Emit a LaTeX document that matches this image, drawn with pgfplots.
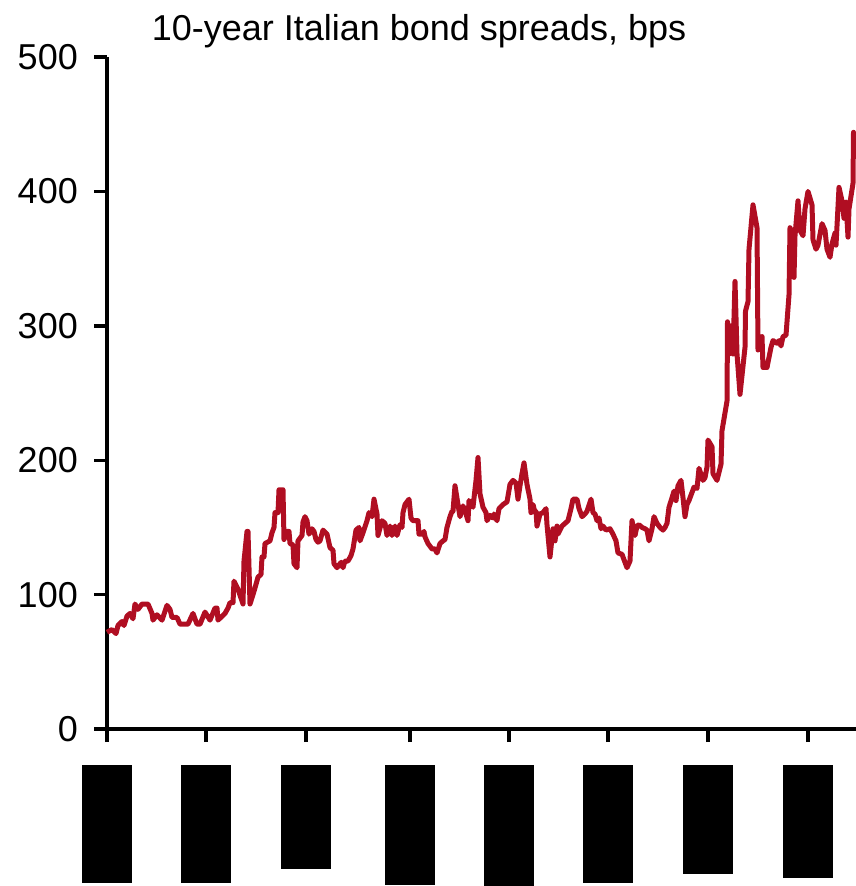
\documentclass[border=0pt]{standalone}
\usepackage{fontspec}
\setmainfont{Liberation Sans}
\usepackage{pgfplots}
\pgfplotsset{compat=1.18}
\definecolor{spreadred}{RGB}{176,14,34}

\begin{document}
\begin{tikzpicture}
\useasboundingbox (0,0) rectangle (856pt,-886pt);
\begin{axis}[
  at={(107pt,-729pt)}, anchor=south west,
  scale only axis, width=749pt, height=672pt,
  xmin=0, xmax=749, ymin=0, ymax=500,
  axis x line=bottom, axis y line=left,
  axis line style={-, line width=3.6pt, black},
  tick align=outside, major tick length=13pt,
  tick style={line width=3.4pt, black},
  xtick={0,99,199,303,402,501,601,701},
  xticklabels={\rule{50pt}{118pt},\rule{50pt}{118pt},\rule{50pt}{104pt},\rule{50pt}{120pt},
               \rule{50pt}{121pt},\rule{50pt}{118pt},\rule{50pt}{109pt},\rule{50pt}{113pt}},
  xticklabel style={anchor=north, inner sep=0pt, yshift=-23pt},
  ytick={0,100,200,300,400,500},
  /pgf/number format/assume math mode=true,
  yticklabel style={font=\fontsize{36}{36}\selectfont, anchor=east, inner sep=0pt, xshift=-16pt},
  clip=false,
]
\addplot[spreadred, line width=5pt, line join=round] coordinates {
(0,72) (5,74) (9,71) (11,77) (15,80) (17,77) (20,84) (23,86) (26,82) (28,93)
(31,89) (35,93) (41,93) (45,86) (46,81) (50,85) (55,81) (60,92) (63,89) (65,83)
(70,83) (73,78) (81,78) (86,86) (90,78) (93,78) (98,87) (103,81) (108,90) (110,90)
(111,81) (118,86) (121,90) (123,94) (126,94) (127,110) (131,104) (136,93) (137,125) (140,147)
(141,147) (143,93) (146,100) (148,105) (151,113) (154,115) (155,128) (157,128) (158,138) (163,140)
(165,146) (167,150) (168,161) (171,161) (172,178) (176,178) (177,141) (180,147) (182,147) (183,138)
(186,137) (187,123) (190,120) (191,140) (195,144) (196,154) (198,158) (200,155) (202,145) (205,149)
(207,147) (209,141) (211,139) (213,140) (216,148) (220,145) (223,135) (226,133) (227,123) (230,120)
(234,124) (236,120) (238,125) (241,125) (244,129) (246,134) (249,148) (252,150) (253,140) (256,146)
(260,155) (262,161) (265,158) (267,171) (270,160) (271,144) (275,155) (278,153) (280,144) (283,151)
(285,144) (288,151) (290,144) (293,152) (295,150) (296,161) (298,167) (302,171) (304,157) (306,155)
(311,155) (312,145) (315,145) (317,147) (318,143) (321,138) (325,134) (328,134) (330,131) (333,138)
(336,140) (338,141) (340,150) (343,158) (345,162) (346,162) (348,181) (351,167) (353,158) (356,166)
(359,160) (361,155) (362,170) (366,165) (369,185) (371,202) (373,175) (376,165) (379,161) (380,155)
(383,159) (386,157) (387,160) (390,155) (392,164) (396,167) (400,169) (403,182) (406,185) (409,183)
(411,171) (413,181) (415,190) (417,198) (420,182) (423,171) (424,161) (426,167) (428,161) (429,162)
(430,151) (433,160) (436,161) (439,164) (440,152) (443,128) (446,149) (448,140) (450,151) (451,145)
(455,151) (458,153) (461,155) (464,164) (466,171) (470,171) (472,164) (475,158) (478,160) (480,162)
(484,171) (486,161) (488,160) (490,155) (492,157) (494,149) (496,151) (499,148) (503,149) (506,145)
(509,140) (511,131) (515,130) (517,126) (520,120) (523,125) (525,155) (528,144) (530,151) (532,152)
(535,150) (538,149) (540,148) (542,140) (545,149) (547,158) (550,153) (553,150) (556,148) (558,150)
(560,153) (562,165) (565,172) (567,177) (569,170) (571,181) (574,185) (576,172) (578,158) (580,167)
(582,170) (585,176) (587,180) (590,179) (592,194) (596,185) (598,187) (600,195) (601,215) (605,210)
(606,190) (610,185) (614,197) (615,222) (620,244) (620.5,303) (622,279) (624,300) (626,279) (628,333)
(630,279) (633,249) (638,284) (638.5,311) (641,318) (642,357) (646,390) (650,373) (651,282) (655,292)
(656,269) (660,269) (664,284) (666,289) (670,287) (672,289) (674,285) (676,292) (679,293) (682,323)
(683,373) (686,367) (687,336) (688,367) (691,393) (693,371) (696,367) (698,387) (701,400) (705,390)
(706,364) (709,357) (711,360) (715,376) (718,371) (720,357) (723,351) (725,361) (728,369) (729,360)
(732,403) (735,393) (737,380) (739,392) (741,366) (742,387) (746,406) (746.5,444) (748,433)
};
\end{axis}
\node[anchor=base, font=\fontsize{36}{36}\selectfont] at (419pt,-40pt) {10-year Italian bond spreads, bps};
\end{tikzpicture}
\end{document}
